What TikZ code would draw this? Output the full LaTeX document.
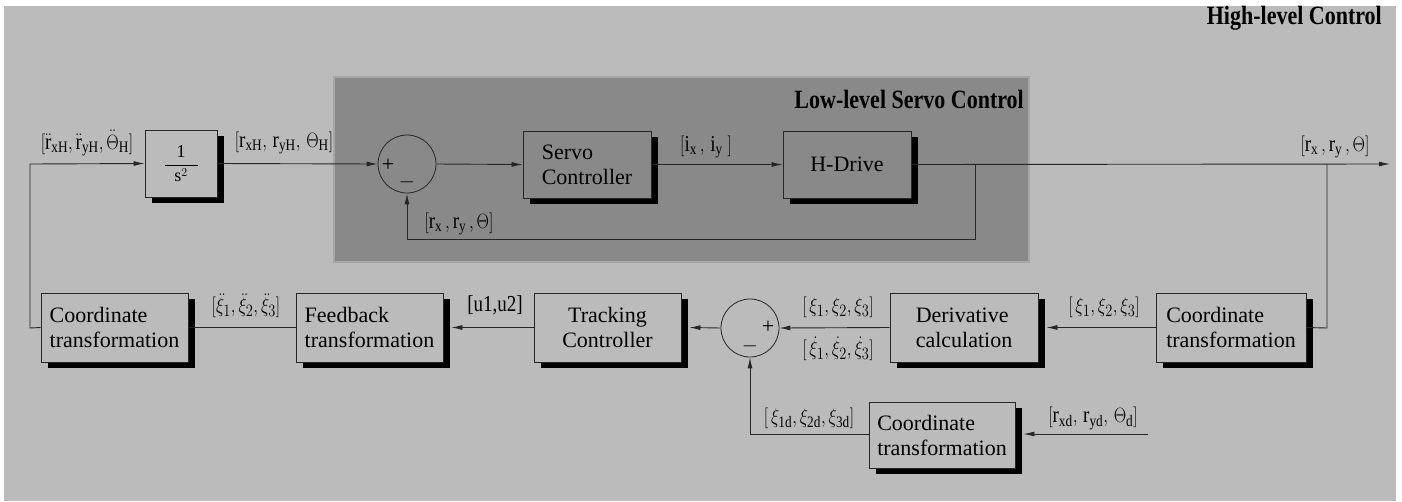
\documentclass[tikz,border=0pt]{standalone}
\usepackage{graphicx}
\usepackage{fontspec}
\setmainfont{Liberation Serif}
\usetikzlibrary{arrows.meta,shadows,calc}
\definecolor{bgl}{HTML}{BBBBBB}
\definecolor{bgd}{HTML}{898989}
\definecolor{ln}{HTML}{262626}
\definecolor{edge}{HTML}{A6A6A6}
\newcommand{\tallbox}[1]{\scalebox{1}[1.2]{#1}}
\begin{document}
\begin{tikzpicture}[x=1pt,y=-1pt,
  every node/.style={font=\rmfamily\fontsize{22}{25}\selectfont},
  blk/.style={draw=ln, line width=0.9pt, inner sep=0pt, align=left,
    drop shadow={shadow xshift=7pt,shadow yshift=-6pt,fill=black,opacity=1}},
  sumc/.style={circle, draw=ln, line width=0.8pt, minimum size=58pt, inner sep=0pt},
  lbl/.style={inner sep=0pt, font=\rmfamily\fontsize{19}{22}\selectfont},
  sig/.style={draw=ln, line width=0.9pt},
  arr/.style={sig, -{Latex[length=11pt,width=5pt]}},
  ttl/.style={font=\rmfamily\bfseries\fontsize{22}{26}\selectfont, inner sep=0pt, anchor=east}]
\useasboundingbox (0,0) rectangle (1402,501);
\fill[white] (0,0) rectangle (1402,501);
\fill[bgl] (4,6) rectangle (1396,501);
\filldraw[fill=bgd, draw=edge, line width=1.2pt] (334,77) rectangle (1029,262);

\node[ttl] (hl) at (1382,18) {\tallbox{High-level Control}};
\node[ttl] (ll) at (1024,99) {\tallbox{Low-level Servo Control}};

% top row
\node[blk, fill=bgl, minimum width=72pt, minimum height=67pt, font=\fontsize{18}{20}\selectfont] (integ) at (181,163.5)
  {$\displaystyle\frac{\hbox to 33pt{\hss 1\hss}}{\mathrm{s}^{2}}$};
\node[sumc, fill=bgd] (s1) at (407,164) {};
\node[font=\fontsize{22}{22}\selectfont, inner sep=0pt] (s1p) at (388,165) {+};
\node[font=\fontsize{22}{22}\selectfont, inner sep=0pt] (s1m) at (407,182) {$-$};
\node[blk, fill=bgd, minimum width=128pt, minimum height=67pt] (servo) at (587,164.5) {Servo\\Controller};
\node[blk, fill=bgd, minimum width=128pt, minimum height=67pt] (hd) at (847,164.5) {H-Drive};

% bottom row
\node[blk, fill=bgl, minimum width=147pt, minimum height=69pt] (cl) at (114.5,327.5) {Coordinate\\transformation};
\node[blk, fill=bgl, minimum width=147pt, minimum height=69pt] (fb) at (369.5,327.5) {Feedback\\transformation};
\node[blk, fill=bgl, minimum width=147pt, minimum height=69pt, align=center] (tc) at (607.5,327.5) {Tracking\\Controller};
\node[sumc, fill=bgl] (s2) at (750,328) {};
\node[font=\fontsize{22}{22}\selectfont, inner sep=0pt] (s2p) at (768,327) {+};
\node[font=\fontsize{22}{22}\selectfont, inner sep=0pt] (s2m) at (750,346) {$-$};
\node[blk, fill=bgl, minimum width=148pt, minimum height=69pt] (dc) at (964,327.5) {Derivative\\calculation};
\node[blk, fill=bgl, minimum width=150pt, minimum height=69pt] (cr) at (1231,327.5) {Coordinate\\transformation};
\node[blk, fill=bgl, minimum width=146pt, minimum height=66pt] (cb) at (942,435) {Coordinate\\transformation};

% helper coordinates
\coordinate (inL) at (30,328);
\coordinate (inT) at (30,164);
\coordinate (out) at (1390,164);
\coordinate (br1) at (975,164);
\coordinate (br1d) at (975,239);
\coordinate (br1l) at (407,239);
\coordinate (br2) at (1327,164);
\coordinate (br2d) at (1327,328);
\coordinate (rin) at (1148,434);
\coordinate (bl) at (750,434);

% connectors
\draw[arr] (cl.west) -- (inL) -- (inT) -- (integ.west);
\draw[arr] (integ.east) -- (s1.west);
\draw[arr] (s1.east) -- (servo.west);
\draw[arr] (servo.east) -- (hd.west);
\draw[arr] (hd.east) -- (out);
\draw[arr] (br1) -- (br1d) -- (br1l) -- (s1.south);
\draw[sig] (br2) -- (br2d) -- (cr.east);
\draw[arr] (cr.west) -- ([xshift=8pt]dc.east);
\draw[arr] (dc.west) -- (s2.east);
\draw[arr] (s2.west) -- ([xshift=8pt]tc.east);
\draw[arr] (tc.west) -- ([xshift=8pt]fb.east);
\draw[sig] (fb.west) -- (cl.east);
\draw[arr] (rin) -- ([xshift=8pt]cb.east |- rin);
\draw[arr] (cb.west |- bl) -- (bl) -- (s2.south);

% labels
\node[lbl] (l1) at (87,143) {\tallbox{$[\ddot{\mathrm r}_{\mathrm{xH}},\ddot{\mathrm r}_{\mathrm{yH}},\ddot\Theta_{\mathrm H}]$}};
\node[lbl] (l2) at (284,143) {\tallbox{$[\mathrm r_{\mathrm{xH}},\,\mathrm r_{\mathrm{yH}},\,\Theta_{\mathrm H}]$}};
\node[lbl] (l3) at (459,224) {\tallbox{$[\mathrm r_{\mathrm x}\,,\mathrm r_{\mathrm y}\,,\Theta]$}};
\node[lbl] (l4) at (706,147) {\tallbox{$[\mathrm i_{\mathrm x}\,,\,\mathrm i_{\mathrm y}\;]$}};
\node[lbl] (l5) at (1335,147) {\tallbox{$[\mathrm r_{\mathrm x}\,,\mathrm r_{\mathrm y}\,,\Theta]$}};
\node[lbl] (l6) at (246,306) {\tallbox{$[\ddot\xi_{1},\ddot\xi_{2},\ddot\xi_{3}]$}};
\node[lbl] (l7) at (495,305) {\tallbox{[u1,u2]}};
\node[lbl] (l8) at (838,307) {\tallbox{$[\,\xi_{1},\xi_{2},\xi_{3}]$}};
\node[lbl] (l9) at (838,349) {\tallbox{$[\,\dot\xi_{1},\dot\xi_{2},\dot\xi_{3}]$}};
\node[lbl] (l10) at (1104,307) {\tallbox{$[\,\xi_{1},\xi_{2},\xi_{3}]$}};
\node[lbl] (l11) at (809,418) {\tallbox{$[\,\xi_{\mathrm{1d}},\xi_{\mathrm{2d}},\xi_{\mathrm{3d}}]$}};
\node[lbl] (l12) at (1093,418) {\tallbox{$[\mathrm r_{\mathrm{xd}},\,\mathrm r_{\mathrm{yd}},\,\Theta_{\mathrm d}]$}};
\end{tikzpicture}
\end{document}
